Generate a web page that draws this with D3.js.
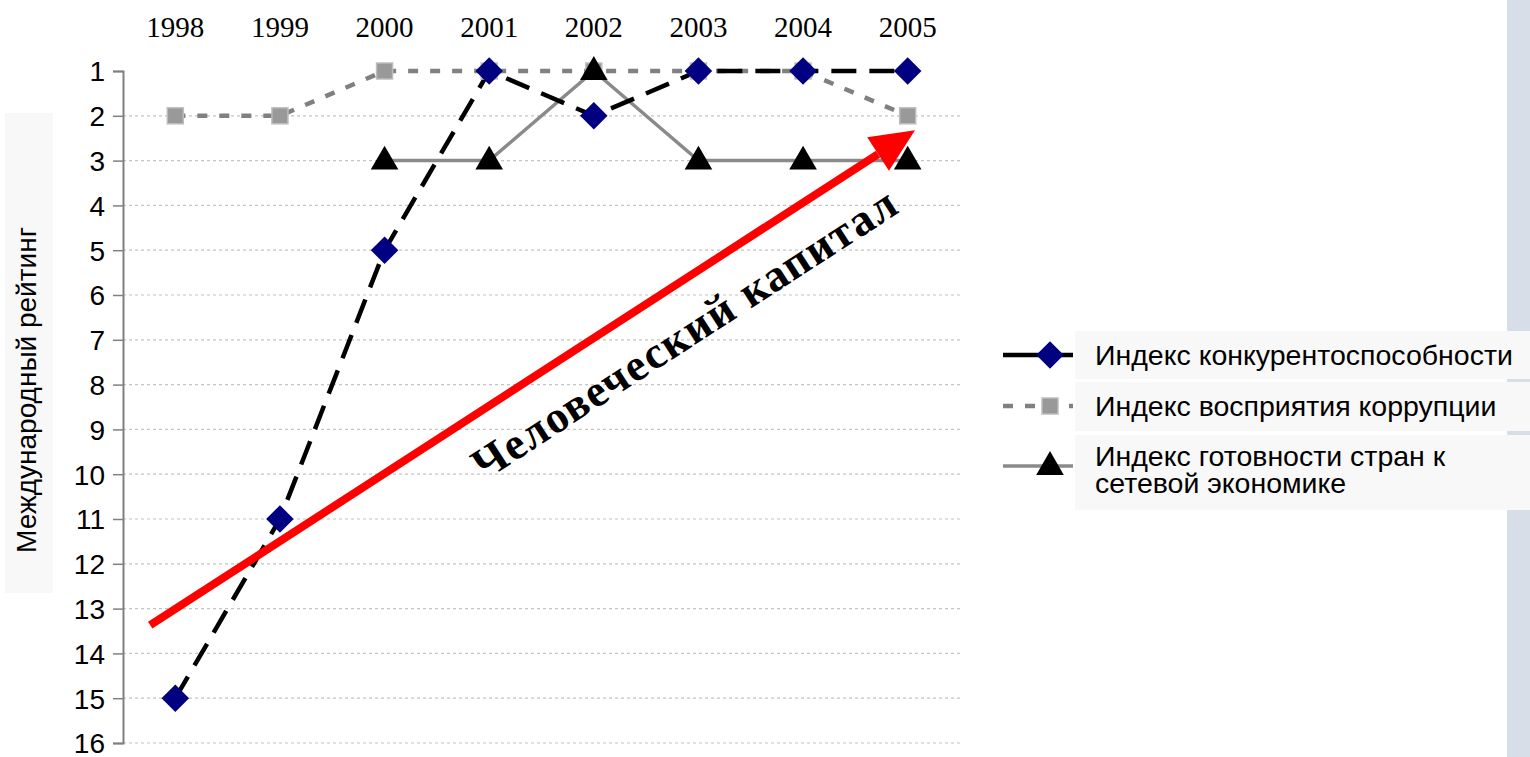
<!DOCTYPE html>
<html>
<head>
<meta charset="utf-8">
<script src="https://cdn.jsdelivr.net/npm/d3@7"></script>
<style>
    body { margin: 0; background: #fff; }
    svg { display: block; }
</style>
</head>
<body>
<div id="chart"></div>
<script>
const years = ['1998', '1999', '2000', '2001', '2002', '2003', '2004', '2005']
const rankTicks = d3.range(1, 17)

const competitiveness = [15, 11, 5, 1, 2, 1, 1, 1]
const corruption = [2, 2, 1, 1, 1, 1, 1, 2]
const networkReadiness = [null, null, 3, 3, 1, 3, 3, 3]

const seriesNames = [
    'Индекс конкурентоспособности',
    'Индекс восприятия коррупции',
    'Индекс готовности стран к|сетевой экономике',
]
const yTitle = 'Международный рейтинг'
const arrowLabel = 'Человеческий капитал'
// arrow ends in (year offset, rank) units
const arrowFrom = [-0.24, 13.37]
const arrowTo = [7.07, 2.32]

const W = 1530, H = 757
const margin = { top: 71, left: 123, right: 570, bottom: 14 }

const svg = d3.select('#chart').append('svg')
    .attr('width', W).attr('height', H)

// right edge panel
svg.append('rect')
    .attr('x', 1507).attr('y', 0).attr('width', 23).attr('height', H)
    .attr('fill', '#d7dee8')

const xScale = d3.scalePoint()
    .domain(years)
    .range([margin.left, 960])
    .padding(0.5)
const step = xScale.step()
const xIdx = d3.scaleLinear().domain([0, 1]).range([xScale(years[0]), xScale(years[0]) + step])

const yScale = d3.scaleLinear()
    .domain([1, 16])
    .range([margin.top, H - margin.bottom])

// grid
svg.append('g')
    .selectAll('line')
    .data(rankTicks.slice(1))
    .enter()
    .append('line')
        .attr('x1', margin.left).attr('x2', 960)
        .attr('y1', (d) => yScale(d)).attr('y2', (d) => yScale(d))
        .attr('stroke', '#c4c4c4')
        .attr('stroke-width', 1.2)
        .attr('stroke-dasharray', '3,3')

// y axis
const yAxis = d3.axisLeft(yScale).tickValues(rankTicks).tickSize(10).tickPadding(8)
const yG = svg.append('g')
    .attr('transform', `translate(${margin.left},0)`)
    .call(yAxis)
yG.select('.domain').attr('stroke', '#808080').attr('stroke-width', 2)
yG.selectAll('.tick line').attr('stroke', '#808080').attr('stroke-width', 1.5)
yG.selectAll('text')
    .style('font-family', 'Liberation Sans, Arial, sans-serif')
    .style('font-size', '28px')
    .attr('fill', '#000')
    .attr('dy', '0.35em')

// x labels on top
svg.append('g')
    .selectAll('text')
    .data(years)
    .enter()
    .append('text')
        .attr('x', (d) => xScale(d))
        .attr('y', 37)
        .attr('text-anchor', 'middle')
        .style('font-family', 'Liberation Serif, Times New Roman, serif')
        .style('font-size', '29px')
        .text((d) => d)

// y title with faint box
svg.append('rect')
    .attr('x', 5).attr('y', 113).attr('width', 48).attr('height', 480)
    .attr('fill', '#f8f8f8')
svg.append('text')
    .attr('transform', 'translate(36,390) rotate(-90)')
    .attr('text-anchor', 'middle')
    .style('font-family', 'Liberation Sans, Arial, sans-serif')
    .style('font-size', '28px')
    .text(yTitle)

const series = [
    { values: corruption, stroke: '#808080', width: 4.5, dash: '10,12', symbol: 'square' },
    { values: networkReadiness, stroke: '#8a8a8a', width: 3.5, dash: null, symbol: 'triangle' },
    { values: competitiveness, stroke: '#000', width: 4.5, dash: '25,13', symbol: 'diamond' },
]

const line = d3.line()
    .defined((d) => d.v != null)
    .x((d) => xScale(d.year))
    .y((d) => yScale(d.v))

const drawMarker = (g, type, x, y) => {
    if (type === 'diamond') {
        g.append('path')
            .attr('d', d3.symbol(d3.symbolSquare, 380)())
            .attr('transform', `translate(${x},${y}) rotate(45)`)
            .attr('fill', '#000080')
    } else if (type === 'square') {
        g.append('rect')
            .attr('x', x - 8).attr('y', y - 8).attr('width', 16).attr('height', 16)
            .attr('fill', '#999').attr('stroke', '#bdbdbd').attr('stroke-width', 1.5)
    } else {
        g.append('path')
            .attr('d', d3.symbol(d3.symbolTriangle, 330)())
            .attr('transform', `translate(${x},${y + 1})`)
            .attr('fill', '#000')
    }
}

series.forEach((s) => {
    const pts = years.map((year, i) => ({ year, v: s.values[i] }))
    svg.append('path')
        .datum(pts)
        .attr('d', line)
        .attr('fill', 'none')
        .attr('stroke', s.stroke)
        .attr('stroke-width', s.width)
        .attr('stroke-dasharray', s.dash)
})
series.forEach((s) => {
    const g = svg.append('g')
    years.forEach((year, i) => {
        if (s.values[i] != null) drawMarker(g, s.symbol, xScale(year), yScale(s.values[i]))
    })
})

// red arrow
const ax1 = xIdx(arrowFrom[0]), ay1 = yScale(arrowFrom[1])
const ax2 = xIdx(arrowTo[0]), ay2 = yScale(arrowTo[1])
const ang = Math.atan2(ay2 - ay1, ax2 - ax1)
const headLen = 44, headW = 20
const bx = ax2 - headLen * Math.cos(ang), by = ay2 - headLen * Math.sin(ang)
svg.append('line')
    .attr('x1', ax1).attr('y1', ay1).attr('x2', bx).attr('y2', by)
    .attr('stroke', '#ff0000').attr('stroke-width', 8)
svg.append('polygon')
    .attr('points', [
        [ax2, ay2],
        [bx + headW * Math.sin(ang), by - headW * Math.cos(ang)],
        [bx - headW * Math.sin(ang), by + headW * Math.cos(ang)],
    ].map((p) => p.join(',')).join(' '))
    .attr('fill', '#ff0000')

svg.append('text')
    .attr('transform', `translate(693,346) rotate(${ang * 180 / Math.PI})`)
    .attr('text-anchor', 'middle')
    .style('font-family', 'Liberation Serif, Times New Roman, serif')
    .style('font-weight', 'bold')
    .style('font-size', '45px')
    .style('letter-spacing', '1.5px')
    .text(arrowLabel)

// legend
const legendRows = [
    { y: 355, box: [331, 48], s: series[2] },
    { y: 406, box: [382, 49], s: series[0] },
    { y: 466, box: [435, 75], s: series[1] },
]
const legend = svg.append('g')
legendRows.forEach((r, i) => {
    legend.append('rect')
        .attr('x', 1075).attr('y', r.box[0]).attr('width', 455).attr('height', r.box[1])
        .attr('fill', '#f8f8f8')
    legend.append('line')
        .attr('x1', 1003).attr('x2', 1073).attr('y1', r.y).attr('y2', r.y)
        .attr('stroke', r.s.stroke).attr('stroke-width', r.s.width)
        .attr('stroke-dasharray', r.s.symbol === 'square' ? '10,12' : null)
    drawMarker(legend, r.s.symbol, 1050, r.y)
    const lines = seriesNames[i].split('|')
    lines.forEach((l, j) => {
        legend.append('text')
            .attr('x', 1095)
            .attr('y', (i === 2 ? 466 : r.y + 10) + j * 27)
            .style('font-family', 'Liberation Sans, Arial, sans-serif')
            .style('font-size', '28.5px')
            .text(l)
    })
})
</script>
</body>
</html>
